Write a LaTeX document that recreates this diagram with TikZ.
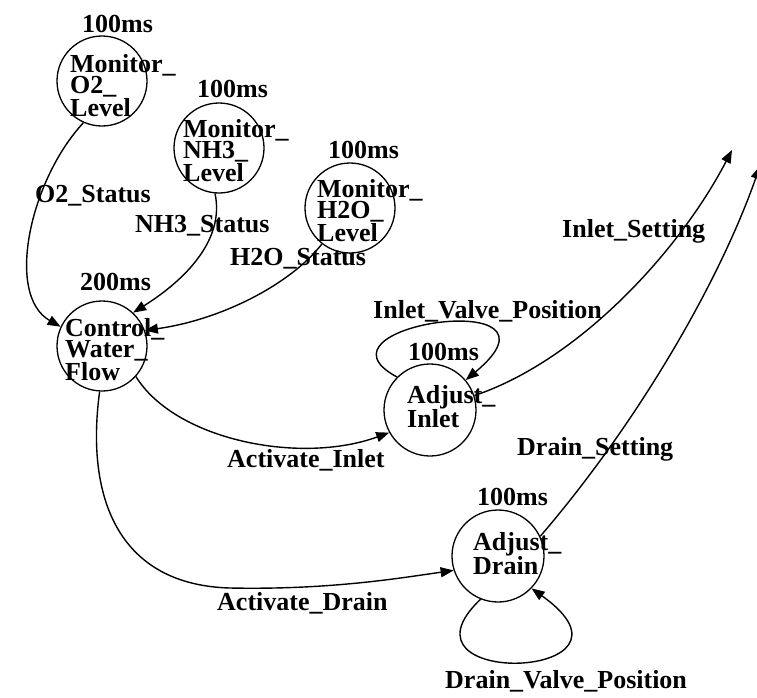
\documentclass[tikz,border=0pt]{standalone}
\usepackage{fontspec}
\setmainfont{Liberation Serif}
\usetikzlibrary{arrows.meta}
\newcommand{\twolines}[2]{\vtop{\hbox{#1}\hbox{#2}}}
\newcommand{\threelines}[3]{\vtop{\hbox{#1}\hbox{#2}\hbox{#3}}}
\begin{document}
\begin{tikzpicture}[x=1pt,y=-1pt,
  state/.style={circle,draw=black,line width=1.3pt,minimum size=90pt,inner sep=0pt},
  lbl/.style={anchor=base west,inner sep=0pt,font=\bfseries\fontsize{26}{19}\selectfont},
  conn/.style={line width=1.4pt,-{Triangle[length=13pt,width=10pt]}}]
\useasboundingbox (0,0) rectangle (757,697);
% states
\node[state] (o2) at (102,81) {};
\node[state] (nh3) at (219,148) {};
\node[state] (h2o) at (350,208) {};
\node[state] (ctrl) at (102,346) {};
\node[state,minimum size=92pt] (inlet) at (430,410) {};
\node[state,minimum size=92pt] (drain) at (498,556) {};
% periods
\node[lbl] (o2p) at (82,32) {100ms};
\node[lbl] (nh3p) at (197,97) {100ms};
\node[lbl] (h2op) at (328,158) {100ms};
\node[lbl] (ctrlp) at (80,290) {200ms};
\node[lbl] (inletp) at (408,360) {100ms};
\node[lbl] (drainp) at (477,505) {100ms};
% state names
\node[lbl,font=\bfseries\fontsize{26}{20}\selectfont] (o2t) at (70,72) {\threelines{Monitor\_}{O2\_}{Level}};
\node[lbl,font=\bfseries\fontsize{26}{20.5}\selectfont] (nh3t) at (183,137) {\threelines{Monitor\_}{NH3\_}{Level}};
\node[lbl,font=\bfseries\fontsize{26}{16.5}\selectfont] (h2ot) at (317,197) {\threelines{Monitor\_}{H2O\_}{Level}};
\node[lbl,font=\bfseries\fontsize{26}{17}\selectfont] (ctrlt) at (65,336) {\threelines{Control\_}{Water\_}{Flow}};
\node[lbl,font=\bfseries\fontsize{26}{17}\selectfont] (inlett) at (407,403) {\twolines{Adjust\_}{Inlet}};
\node[lbl,font=\bfseries\fontsize{26}{18}\selectfont] (draint) at (473,550) {\twolines{Adjust\_}{Drain}};
% external ends
\coordinate (outA) at (732,150);
\coordinate (outB) at (760,166);
% connectors
\draw[conn] (o2.246) .. controls (30,180) and (5,295) .. (ctrl.155);
\draw[conn] (nh3.265) .. controls (225,240) and (185,280) .. (ctrl.47);
\draw[conn] (h2o.232) .. controls (290,285) and (220,320) .. (ctrl.20);
\draw[conn] (ctrl.318) .. controls (175,440) and (300,465) .. (inlet.209);
\draw[conn] (ctrl.267) .. controls (85,500) and (120,585) .. (230,588)
  .. controls (330,590) and (400,578) .. (drain.198);
\draw[conn] (inlet.135) .. controls (300,325) and (580,285) .. (inlet.40);
\draw[conn] (drain.248) .. controls (385,690) and (660,680) .. (drain.316);
\draw[conn] (inlet.18) .. controls (580,360) and (680,250) .. (outA);
\draw[conn] (drain.25) .. controls (640,420) and (720,280) .. (outB);
% connector labels
\node[lbl] (l1) at (35,202) {O2\_Status};
\node[lbl] (l2) at (135,232) {NH3\_Status};
\node[lbl] (l3) at (230,265) {H2O\_Status};
\node[lbl] (l4) at (562,237) {Inlet\_Setting};
\node[lbl] (l5) at (373,318) {Inlet\_Valve\_Position};
\node[lbl] (l6) at (227,467) {Activate\_Inlet};
\node[lbl] (l7) at (517,455) {Drain\_Setting};
\node[lbl] (l8) at (217,610) {Activate\_Drain};
\node[lbl] (l9) at (445,688) {Drain\_Valve\_Position};
\end{tikzpicture}
\end{document}
